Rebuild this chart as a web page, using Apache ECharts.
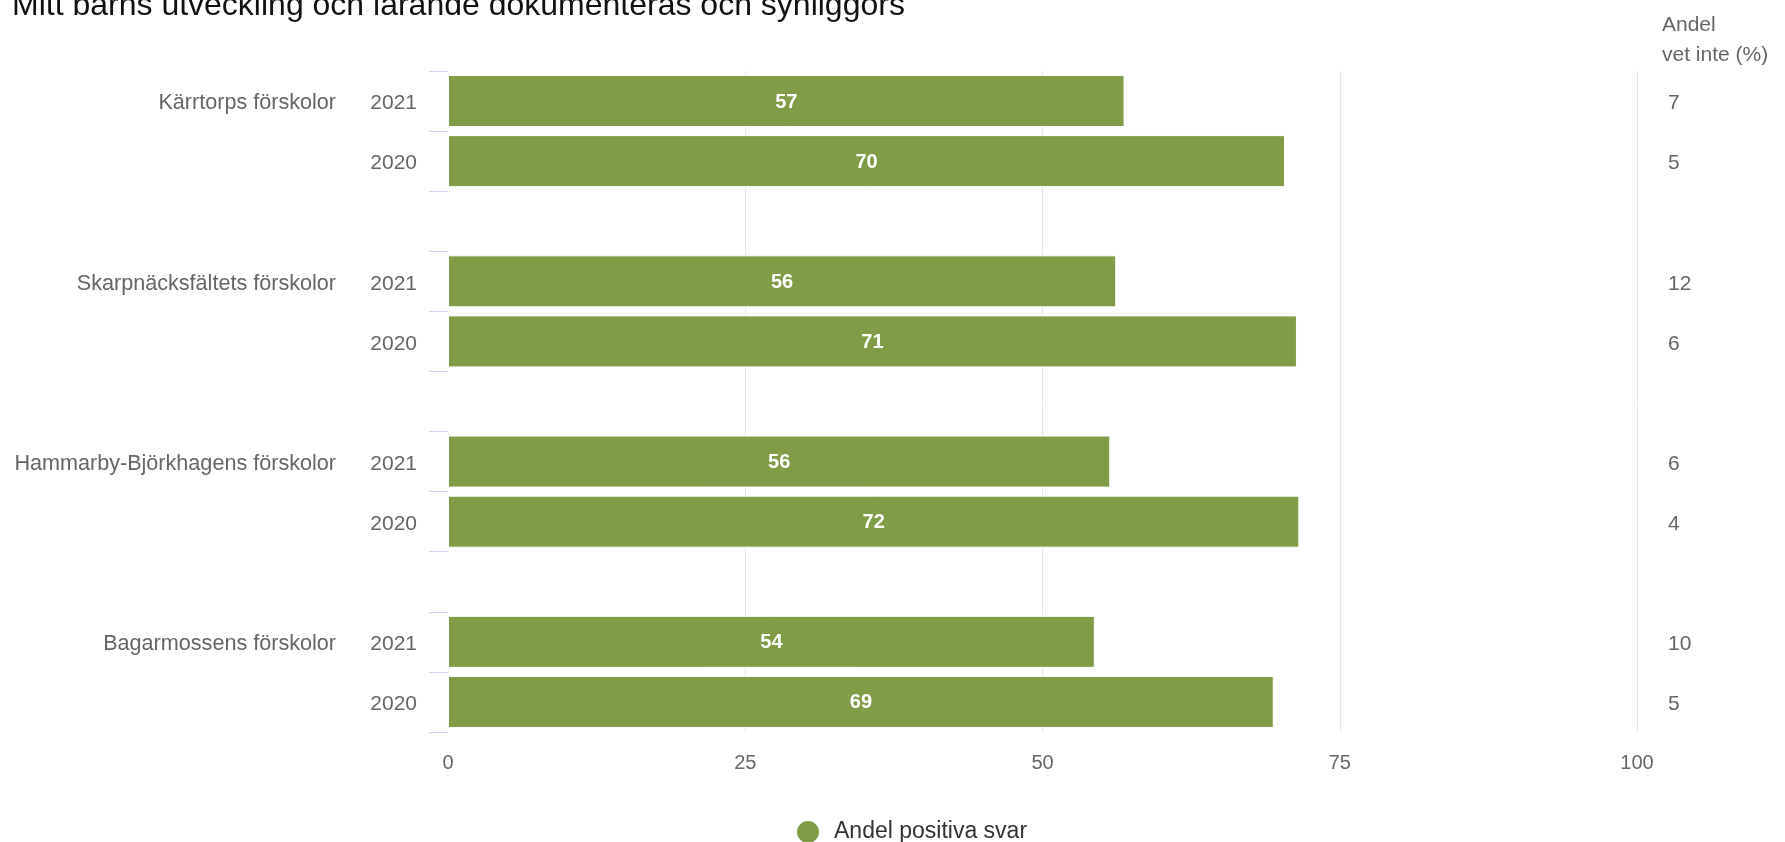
<!DOCTYPE html>
<html>
<head>
<meta charset="utf-8">
<script src="https://cdn.jsdelivr.net/npm/echarts@6/dist/echarts.min.js"></script>
<style>
html,body{margin:0;padding:0;background:#fff;}
#chart{width:1785px;height:842px;}
</style>
</head>
<body>
<div id="chart"></div>
<script>
// ---- data ----
var titleText = 'Mitt barns utveckling och lärande dokumenteras och synliggörs';
var groups = ['Kärrtorps förskolor', 'Skarpnäcksfältets förskolor', 'Hammarby-Björkhagens förskolor', 'Bagarmossens förskolor'];
var years = ['2021', '2020'];
var positive2021 = [56.9, 56.2, 55.7, 54.4];
var positive2020 = [70.4, 71.4, 71.6, 69.45];
var vetInte2021 = [7, 12, 6, 10];
var vetInte2020 = [5, 6, 4, 5];
var xTicks = [0, 25, 50, 75, 100];
var seriesName = 'Andel positiva svar';
var sideHeader = 'Andel\nvet inte (%)';

// ---- build rows ----
var rowIds = [], yearLabels = [], groupLabels = [], sideLabels = [], barData = [];
groups.forEach(function (g, i) {
  var vals = [positive2021[i], positive2020[i]];
  var vi = [vetInte2021[i], vetInte2020[i]];
  years.forEach(function (y, j) {
    rowIds.push(g + ' ' + y);
    yearLabels.push(y);
    groupLabels.push(j === 0 ? g : '');
    sideLabels.push(String(vi[j]));
    barData.push(vals[j]);
  });
  if (i < groups.length - 1) {
    rowIds.push('gap' + i);
    yearLabels.push('');
    groupLabels.push('');
    sideLabels.push('');
    barData.push('-');
  }
});

var FONT = '"Liberation Sans", Arial, Helvetica, sans-serif';
var chart = echarts.init(document.getElementById('chart'), null, {renderer: 'canvas'});
var gridColor = '#e6e6e6';
function shifted(s) { return s ? '{t|' + s + '}' : ''; }
function richStyle(fs) {
  return {t: {fontFamily: FONT, fontSize: fs, color: '#666', padding: [5, 0, 0, 0]}};
}

chart.setOption({
  animation: false,
  backgroundColor: '#ffffff',
  textStyle: {fontFamily: FONT},
  title: [{
    text: titleText,
    left: 12, top: -10, padding: 0,
    textStyle: {fontFamily: FONT, fontSize: 32, fontWeight: 'normal', color: '#111'}
  }, {
    text: sideHeader,
    left: 1662, top: 10, padding: 0,
    textStyle: {fontFamily: FONT, fontSize: 21, fontWeight: 'normal', color: '#666', lineHeight: 30}
  }],
  legend: {
    left: 795, top: 819, padding: 0,
    itemWidth: 24, itemHeight: 24,
    icon: 'circle',
    selectedMode: false,
    textStyle: {fontFamily: FONT, fontSize: 23, color: '#333', padding: [0, 0, 0, 9]},
    data: [seriesName]
  },
  grid: {left: 448, right: 148, top: 71, bottom: 110, containLabel: false},
  xAxis: {
    type: 'value', min: xTicks[0], max: xTicks[xTicks.length - 1], interval: 25,
    axisLine: {show: false}, axisTick: {show: false},
    axisLabel: {color: '#666', fontSize: 20, fontFamily: FONT, margin: 21},
    splitLine: {show: true, lineStyle: {color: ['rgba(0,0,0,0)', gridColor, gridColor, gridColor, gridColor], width: 1}}
  },
  yAxis: [{
    type: 'category', data: rowIds, inverse: true, position: 'left',
    axisLine: {show: false},
    axisTick: {show: true, length: 19, interval: 0, alignWithLabel: false, lineStyle: {color: '#ccd6eb'}},
    axisLabel: {
      interval: 0, margin: 31, color: '#666', fontSize: 21, fontFamily: FONT,
      formatter: function (v, idx) { return shifted(yearLabels[idx]); },
      rich: richStyle(21)
    },
    splitLine: {show: false}
  }, {
    type: 'category', data: groupLabels, inverse: true, position: 'left',
    axisLine: {show: false}, axisTick: {show: false},
    axisLabel: {interval: 0, margin: 112, color: '#666', fontSize: 21.6, fontFamily: FONT,
      formatter: function (v) { return shifted(v); }, rich: richStyle(21.6)},
    splitLine: {show: false}
  }, {
    type: 'category', data: sideLabels, inverse: true, position: 'right',
    axisLine: {show: false}, axisTick: {show: false},
    axisLabel: {interval: 0, margin: 31, color: '#666', fontSize: 21, fontFamily: FONT, align: 'left',
      formatter: function (v) { return shifted(v); }, rich: richStyle(21)},
    splitLine: {show: false}
  }],
  series: [{
    name: seriesName,
    type: 'bar',
    yAxisIndex: 0,
    data: barData,
    barWidth: 52,
    itemStyle: {color: '#819c46', borderColor: '#ffffff', borderWidth: 1},
    label: {
      show: true, position: 'inside', color: '#fff', fontWeight: 'bold', fontSize: 20, fontFamily: FONT,
      formatter: function (p) { return '{v|' + Math.round(p.value) + '}'; },
      rich: {v: {color: '#fff', fontWeight: 'bold', fontSize: 20, fontFamily: FONT, padding: [2, 0, 0, 0]}}
    }
  }]
});
</script>
</body>
</html>
